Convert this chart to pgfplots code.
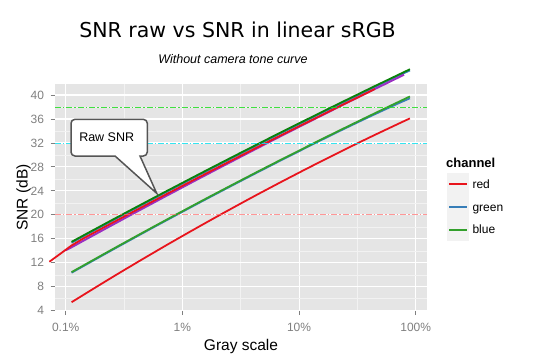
\documentclass[border=0pt]{standalone}
\usepackage{pgfplots}
\pgfplotsset{compat=1.18}
\usepackage{fontspec}
\setmainfont{Liberation Sans}
\newfontfamily\titlefont{DejaVu Sans}
\definecolor{panelbg}{HTML}{E5E5E5}
\definecolor{gridminor}{HTML}{F2F2F2}
\definecolor{tickgrey}{HTML}{7F7F7F}
\definecolor{cred}{HTML}{E8141C}
\definecolor{cblue}{HTML}{377EB8}
\definecolor{cgreen}{HTML}{33A02C}
\definecolor{rawgreen}{HTML}{0A820A}
\definecolor{cpurple}{HTML}{9A2FC2}
\definecolor{hlgreen}{HTML}{22DD22}
\definecolor{hlcyan}{HTML}{11E0EE}
\definecolor{hlpink}{HTML}{FF6A6A}
\definecolor{boxborder}{HTML}{555555}
\definecolor{keybg}{HTML}{F2F2F2}

\pgfplotstableread{
x y
0.0011220 15.49
0.0014125 16.55
0.0017783 17.60
0.0022387 18.65
0.0028184 19.69
0.0035481 20.73
0.0044668 21.76
0.0056234 22.79
0.0070795 23.82
0.0089125 24.83
0.011220 25.85
0.014125 26.86
0.017783 27.87
0.022387 28.87
0.028184 29.87
0.035481 30.86
0.044668 31.85
0.056234 32.84
0.070795 33.82
0.089125 34.79
0.11220 35.76
0.14125 36.73
0.17783 37.69
0.22387 38.65
0.28184 39.60
0.35481 40.55
0.44668 41.50
0.56234 42.43
0.70795 43.37
0.89125 44.30
}\rawgreen

\pgfplotstableread{
x y
0.0011220 15.34
0.0014125 16.40
0.0017783 17.45
0.0022387 18.50
0.0028184 19.54
0.0035481 20.58
0.0044668 21.61
0.0056234 22.64
0.0070795 23.67
0.0089125 24.68
0.011220 25.70
0.014125 26.71
0.017783 27.72
0.022387 28.72
0.028184 29.72
0.035481 30.71
0.044668 31.70
0.056234 32.69
0.070795 33.67
0.089125 34.64
0.11220 35.61
0.14125 36.58
0.17783 37.54
0.22387 38.50
0.28184 39.45
0.35481 40.40
0.44668 41.35
0.56234 42.28
0.70795 43.22
0.89125 44.10
}\rawblue

\pgfplotstableread{
x y
0.000724 12.17
0.000891 13.45
0.0011220 14.89
0.0014125 16.05
0.0017783 17.10
0.0022387 18.15
0.0028184 19.19
0.0035481 20.23
0.0044668 21.26
0.0056234 22.29
0.0070795 23.32
0.0089125 24.33
0.011220 25.35
0.014125 26.36
0.017783 27.37
0.022387 28.37
0.028184 29.37
0.035481 30.36
0.044668 31.35
0.056234 32.34
0.070795 33.32
0.089125 34.29
0.11220 35.26
0.14125 36.23
0.17783 37.19
0.22387 38.15
0.28184 39.10
0.35481 40.05
0.44668 41.00
}\rawred

\pgfplotstableread{
x y
0.0010000 14.10
0.0011220 14.59
0.0014125 15.67
0.0017783 16.73
0.0022387 17.80
0.0028184 18.85
0.0035481 19.91
0.0044668 20.96
0.0056234 22.00
0.0070795 23.05
0.0089125 24.07
0.011220 25.11
0.014125 26.14
0.017783 27.16
0.022387 28.18
0.028184 29.19
0.035481 30.20
0.044668 31.21
0.056234 32.21
0.070795 33.21
0.089125 34.20
0.11220 35.18
0.14125 36.17
0.17783 37.14
0.22387 38.12
0.28184 39.09
0.35481 40.05
0.44668 41.02
0.56234 41.96
0.70795 42.92
0.79433 43.40
}\rawpurple

\pgfplotstableread{
x y
0.0011220 5.42
0.0014125 6.62
0.0017783 7.82
0.0022387 9.01
0.0028184 10.19
0.0035481 11.35
0.0044668 12.51
0.0056234 13.65
0.0070795 14.79
0.0089125 15.91
0.011220 17.02
0.014125 18.12
0.017783 19.21
0.022387 20.29
0.028184 21.36
0.035481 22.42
0.044668 23.47
0.056234 24.50
0.070795 25.53
0.089125 26.54
0.11220 27.55
0.14125 28.54
0.17783 29.52
0.22387 30.49
0.28184 31.46
0.35481 32.41
0.44668 33.35
0.56234 34.27
0.70795 35.19
0.89125 36.10
}\srgbred

\pgfplotstableread{
x y
0.0011220 10.34
0.0014125 11.43
0.0017783 12.52
0.0022387 13.61
0.0028184 14.69
0.0035481 15.76
0.0044668 16.83
0.0056234 17.89
0.0070795 18.94
0.0089125 19.99
0.011220 21.03
0.014125 22.07
0.017783 23.10
0.022387 24.12
0.028184 25.14
0.035481 26.15
0.044668 27.16
0.056234 28.15
0.070795 29.15
0.089125 30.13
0.11220 31.11
0.14125 32.09
0.17783 33.05
0.22387 34.01
0.28184 34.95
0.35481 35.88
0.44668 36.80
0.56234 37.70
0.70795 38.60
0.89125 39.45
}\srgbgreen

\pgfplotstableread{
x y
0.0011220 10.44
0.0014125 11.53
0.0017783 12.62
0.0022387 13.71
0.0028184 14.79
0.0035481 15.86
0.0044668 16.93
0.0056234 17.99
0.0070795 19.04
0.0089125 20.09
0.011220 21.13
0.014125 22.17
0.017783 23.20
0.022387 24.22
0.028184 25.24
0.035481 26.25
0.044668 27.26
0.056234 28.26
0.070795 29.25
0.089125 30.23
0.11220 31.21
0.14125 32.19
0.17783 33.16
0.22387 34.12
0.28184 35.07
0.35481 36.02
0.44668 36.96
0.56234 37.90
0.70795 38.83
0.89125 39.76
}\srgbblue

\begin{document}
\begin{tikzpicture}[x=1bp,y=1bp]
\path[use as bounding box] (0,0) rectangle (540,362);
\begin{axis}[
  at={(55bp,51.3bp)}, anchor=south west,
  scale only axis, width=371.7bp, height=226.7bp,
  xmode=log, xmin=0.000809, xmax=1.2417, ymin=4, ymax=41.84,
  clip=false,
  axis background/.style={fill=panelbg},
  axis line style={draw=none},
  xtick={0.001,0.01,0.1,1}, xticklabels={0.1\%,1\%,10\%,100\%},
  minor xtick={0.0031623,0.031623,0.31623},
  ytick={4,8,...,40}, minor ytick={6,10,...,38},
  grid=both,
  major grid style={white, line width=1.1bp},
  minor grid style={gridminor, line width=0.5bp},
  tick align=outside, tick pos=left,
  major tick length=4.5bp, minor tick length=0pt,
  tick style={tickgrey, line width=0.9bp},
  /pgf/number format/assume math mode=true,
  ticklabel style={font=\fontsize{12bp}{14bp}\selectfont, text=tickgrey},
  xticklabel style={yshift=-4bp},
  yticklabel style={xshift=-3bp},
]
\addplot[cblue, line width=1.8bp] table[x=x,y=y] {\rawblue};
\addplot[cpurple, line width=2bp] table[x=x,y=y] {\rawpurple};
\addplot[cred, line width=1.8bp] table[x=x,y=y] {\rawred};
\addplot[rawgreen, line width=1.8bp] table[x=x,y=y] {\rawgreen};
\addplot[cred, line width=1.8bp] table[x=x,y=y] {\srgbred};
\addplot[cblue, line width=1.8bp] table[x=x,y=y] {\srgbgreen};
\addplot[cgreen, line width=1.8bp] table[x=x,y=y] {\srgbblue};
\addplot[hlgreen, line width=0.9bp, opacity=0.85, dash pattern=on 6bp off 2bp on 1.5bp off 2bp] coordinates {(0.000809,38) (1.2417,38)};
\addplot[hlcyan, line width=0.9bp, opacity=0.85, dash pattern=on 6bp off 2bp on 1.5bp off 2bp] coordinates {(0.000809,32) (1.2417,32)};
\addplot[hlpink, line width=0.9bp, opacity=0.7, dash pattern=on 6bp off 2bp on 1.5bp off 2bp] coordinates {(0.000809,20) (1.2417,20)};
\end{axis}
% callout
\draw[boxborder, line width=1.5bp, fill=white]
  (115,206) [rounded corners=4bp] -- (71,206) -- (71,242.7) -- (147.3,242.7) -- (147.3,206) [sharp corners] -- (140,206) -- (156.7,168.7) -- cycle;
\node[anchor=base, font=\fontsize{12.5bp}{14bp}\selectfont] at (106.7,220.3) {Raw SNR};
% titles
\node[anchor=base, font=\titlefont\fontsize{20.5bp}{24bp}\selectfont] at (237.5,324.7) {SNR raw vs SNR in linear sRGB};
\node[anchor=base, font=\fontsize{12.5bp}{14bp}\selectfont\itshape] at (233,299) {Without camera tone curve};
\node[anchor=base, font=\fontsize{15.5bp}{18bp}\selectfont] at (241,12) {Gray scale};
\node[anchor=base, rotate=90, font=\fontsize{15.5bp}{18bp}\selectfont] at (27.5,164.5) {SNR (dB)};
% legend
\node[anchor=base west, inner sep=0pt, font=\fontsize{13bp}{15bp}\selectfont\bfseries] at (446,194.7) {channel};
\fill[keybg] (447.3,166.4) rectangle (469.3,189);
\fill[keybg] (447.3,143.8) rectangle (469.3,166.4);
\fill[keybg] (447.3,121.1) rectangle (469.3,143.8);
\draw[cred, line width=1.8bp] (449.3,177.7) -- (467.3,177.7);
\draw[cblue, line width=1.8bp] (449.3,155.1) -- (467.3,155.1);
\draw[cgreen, line width=1.8bp] (449.3,132.4) -- (467.3,132.4);
\node[anchor=base west, inner sep=0pt, font=\fontsize{12bp}{14bp}\selectfont] at (472.3,173.4) {red};
\node[anchor=base west, inner sep=0pt, font=\fontsize{12bp}{14bp}\selectfont] at (472.3,150.8) {green};
\node[anchor=base west, inner sep=0pt, font=\fontsize{12bp}{14bp}\selectfont] at (472.3,128.1) {blue};
\end{tikzpicture}
\end{document}
